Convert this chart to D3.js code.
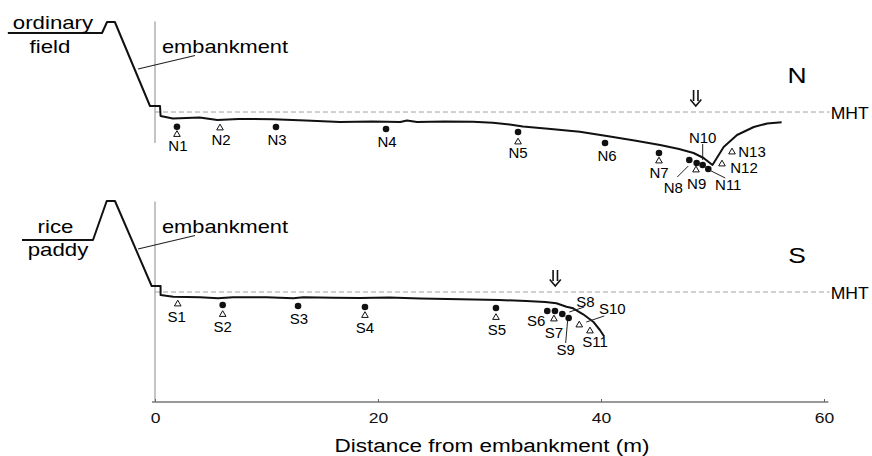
<!DOCTYPE html>
<html>
<head>
<meta charset="utf-8">
<script src="https://cdn.jsdelivr.net/npm/d3@7"></script>
<style>
  html, body { margin: 0; padding: 0; background: #fff; }
  svg { display: block; font-family: "Liberation Sans", Arial, sans-serif; }
</style>
</head>
<body>
<svg id="chart" width="872" height="456"></svg>
<script>
// ground profiles [distance from embankment (m), elevation rel. to MHT (m)]
let nProfile = [
  [-13.2, 0.79], [-4.75, 0.79], [-4.3, 0.9], [-3.6, 0.9], [-0.45, 0.06], [0.45, 0.06], [0.5, -0.04],
  [1.6, -0.065], [2.8, -0.06], [4.0, -0.055], [5.6, -0.08], [7.5, -0.07], [10.6, -0.072],
  [13.5, -0.085], [16.6, -0.1], [19.5, -0.095], [22.0, -0.1], [22.6, -0.085], [23.5, -0.1],
  [26.0, -0.095], [28.5, -0.097], [30.3, -0.107], [31.8, -0.125], [33.0, -0.145], [35.5, -0.17],
  [38.1, -0.197], [40.8, -0.245], [43.0, -0.285], [45.3, -0.33], [47.0, -0.37], [48.3, -0.41],
  [49.2, -0.46], [50.0, -0.53], [50.5, -0.44], [51.0, -0.35], [52.2, -0.23], [53.7, -0.15],
  [54.9, -0.115], [56.2, -0.103],
];
let sProfile = [
  [-11.93, 0.52], [-5.56, 0.52], [-4.33, 0.91], [-3.59, 0.91], [-0.3, 0.06], [0.5, 0.06], [0.5, -0.03],
  [1.64, -0.047], [4.04, -0.053], [5.65, -0.063], [7.0, -0.053], [10.0, -0.053], [12.4, -0.063],
  [13.3, -0.053], [16.0, -0.058], [18.4, -0.06], [21.0, -0.056], [23.8, -0.065], [27.4, -0.073],
  [30.9, -0.08], [33.3, -0.09], [35.0, -0.1], [36.0, -0.113], [36.9, -0.147], [37.5, -0.163],
  [38.4, -0.223], [39.3, -0.297], [39.9, -0.38], [40.3, -0.447],
];

// sampling points: [name, distance, elevation]
let nDots = [
  ["N1", 1.97, -0.147], ["N3", 10.85, -0.15], ["N4", 20.72, -0.17], ["N5", 32.56, -0.2],
  ["N6", 40.36, -0.31], ["N7", 45.2, -0.41], ["N8", 47.92, -0.48], ["N9", 48.58, -0.51],
  ["N10", 49.12, -0.53], ["N11", 49.62, -0.57],
];
let nTris = [
  ["N1", 1.97, -0.225], ["N2", 5.83, -0.16], ["N5", 32.56, -0.3], ["N7", 45.2, -0.49],
  ["N9", 48.52, -0.58], ["N12", 50.85, -0.52], ["N13", 51.75, -0.4],
];
let sDots = [
  ["S2", 6.07, -0.13], ["S3", 12.83, -0.14], ["S4", 18.83, -0.15], ["S5", 30.58, -0.16],
  ["S6", 35.18, -0.19], ["S7", 35.87, -0.19], ["S8", 36.53, -0.22], ["S9", 37.1, -0.26],
];
let sTris = [
  ["S1", 2.04, -0.12], ["S2", 6.07, -0.225], ["S4", 18.83, -0.235], ["S5", 30.58, -0.255],
  ["S7", 35.78, -0.27], ["S10", 38.05, -0.33], ["S11", 39.01, -0.39],
];

let arrowDist = [48.5, 35.9]; // N, S
let xTicks = [0, 20, 40, 60];

// label placement (px offset from the station's first mark)
let labelOffset = {
  N1: [1, 19], N2: [1, 12], N3: [1, 13], N4: [1, 13], N5: [0, 21], N6: [2, 13], N7: [0, 20],
  N8: [-16, 28], N9: [0, 21], N10: [0, -27], N11: [20, 16], N12: [22, 4], N13: [20, 0],
  S1: [-1, 13], S2: [0, 22], S3: [1, 13], S4: [0, 21], S5: [1, 22], S6: [-11, 10], S7: [-1, 22],
  S8: [23, -12], S9: [-3, 32], S10: [33, -16], S11: [5, 11],
};
let leaderOffset = {
  N8: [[-1, 6], [-12, 17]], N10: [[0, -21], [0, -5]], N11: [[1, 1], [17, 9]],
  S8: [[7, -2], [22, -7]], S9: [[-1, 2], [-3, 25]], S10: [[7, -3], [25, -9]],
};

const svg = d3.select("#chart");
const x = d3.scaleLinear().domain([0, 60]).range([155, 824]);
const axisY = 402;

function stretch(sel, k) {
  sel.each(function () {
    const len = this.getComputedTextLength();
    d3.select(this).attr("textLength", len * k).attr("lengthAdjust", "spacingAndGlyphs");
  });
}

let panels = [
  { name: "N", profile: nProfile, dots: nDots, tris: nTris, arrow: arrowDist[0], base: 112,
    land: ["ordinary", "field"], landX: [53, 50], vBottom: -0.31 },
  { name: "S", profile: sProfile, dots: sDots, tris: sTris, arrow: arrowDist[1], base: 292,
    land: ["rice", "paddy"], landX: [55.5, 58], vBottom: null },
];

panels.forEach((p) => {
  const y = d3.scaleLinear().domain([0, 1]).range([p.base, p.base - 100]);
  const g = svg.append("g");

  // embankment foot line
  g.append("line")
    .attr("x1", x(0)).attr("x2", x(0))
    .attr("y1", y(0.905))
    .attr("y2", p.vBottom === null ? axisY : y(p.vBottom))
    .attr("stroke", "#b0b0b0").attr("stroke-width", 1.5);

  // MHT
  g.append("line")
    .attr("x1", x(0)).attr("x2", x(60.5))
    .attr("y1", y(0)).attr("y2", y(0))
    .attr("stroke", "#a0a0a0").attr("stroke-width", 1)
    .attr("stroke-dasharray", "5,3");
  g.append("text")
    .attr("x", x(60.6)).attr("y", y(0) + 7)
    .attr("font-size", 17).attr("textLength", 38).attr("lengthAdjust", "spacingAndGlyphs")
    .text("MHT");

  // profile
  g.append("path")
    .datum(p.profile)
    .attr("d", d3.line().x((d) => x(d[0])).y((d) => y(d[1])))
    .attr("fill", "none").attr("stroke", "#111").attr("stroke-width", 2)
    .attr("stroke-linejoin", "round");

  // embankment leader + labels
  g.append("line")
    .attr("x1", x(-1.52)).attr("y1", y(0.43))
    .attr("x2", x(3.59)).attr("y2", y(0.565))
    .attr("stroke", "#222").attr("stroke-width", 1.2);
  g.append("text")
    .attr("x", 162).attr("y", y(0.59))
    .attr("font-size", 19).attr("textLength", 126).attr("lengthAdjust", "spacingAndGlyphs")
    .text("embankment");

  g.selectAll("text.land")
    .data(p.land)
    .join("text")
    .attr("class", "land")
    .attr("x", (d, i) => p.landX[i])
    .attr("y", (d, i) => p.name === "N" ? (i ? 53 : 29) : (i ? 256 : 233))
    .attr("text-anchor", "middle")
    .attr("font-size", 19)
    .text((d) => d)
    .call(stretch, 1.17);

  g.append("text")
    .attr("x", 797).attr("y", p.base - 37)
    .attr("dy", "0.35em").attr("text-anchor", "middle")
    .attr("font-size", 22)
    .text(p.name)
    .call(stretch, 1.2);

  // arrow marking the channel edge
  const ax = x(p.arrow), tip = y(0) - 6;
  g.append("path")
    .attr("d", `M${ax - 2.2},${tip - 16}V${tip - 5}M${ax + 2.2},${tip - 16}V${tip - 5}` +
      `M${ax - 5.5},${tip - 6.5}L${ax},${tip}L${ax + 5.5},${tip - 6.5}`)
    .attr("fill", "none").attr("stroke", "#111").attr("stroke-width", 1.6);

  // triangles, dots
  g.selectAll("path.tri")
    .data(p.tris)
    .join("path")
    .attr("class", "tri")
    .attr("d", d3.symbol(d3.symbolTriangle, 19))
    .attr("transform", (d) => `translate(${x(d[1])},${y(d[2])})`)
    .attr("fill", "#fff").attr("stroke", "#111").attr("stroke-width", 1);

  g.selectAll("circle")
    .data(p.dots)
    .join("circle")
    .attr("cx", (d) => x(d[1]))
    .attr("cy", (d) => y(d[2]))
    .attr("r", 3.3)
    .attr("fill", "#111");

  // station labels
  let names = [...new Set(p.dots.concat(p.tris).map((d) => d[0]))];
  let anchor = (n) => {
    let m = p.dots.find((d) => d[0] === n) || p.tris.find((d) => d[0] === n);
    return [x(m[1]), y(m[2])];
  };

  names.forEach((n) => {
    const [cx, cy] = anchor(n);
    const off = labelOffset[n];
    g.append("text")
      .attr("x", cx + off[0]).attr("y", cy + off[1])
      .attr("dy", "0.36em").attr("text-anchor", "middle")
      .attr("font-size", 15)
      .text(n);
    if (leaderOffset[n]) {
      const l = leaderOffset[n];
      g.append("line")
        .attr("x1", cx + l[0][0]).attr("y1", cy + l[0][1])
        .attr("x2", cx + l[1][0]).attr("y2", cy + l[1][1])
        .attr("stroke", "#222").attr("stroke-width", 1);
    }
  });
});

// x axis
let axis = svg.append("g")
  .attr("transform", `translate(0,${axisY})`)
  .call(d3.axisBottom(x).tickValues(xTicks).tickSizeInner(-3).tickSizeOuter(0).tickPadding(10));
axis.select(".domain").attr("stroke", "#999").attr("stroke-width", 2).attr("d", `M${x(0) - 3},0H${x(60.4)}`);
axis.selectAll(".tick line").attr("stroke", "#666");
axis.selectAll(".tick text")
  .attr("font-size", 15.5).attr("fill", "#111")
  .attr("font-family", "'Liberation Sans', Arial, sans-serif")
  .call(stretch, 1.13);

svg.append("text")
  .attr("x", 492).attr("y", 452)
  .attr("text-anchor", "middle")
  .attr("font-size", 18).attr("textLength", 315).attr("lengthAdjust", "spacingAndGlyphs")
  .text("Distance from embankment (m)");
</script>
</body>
</html>
